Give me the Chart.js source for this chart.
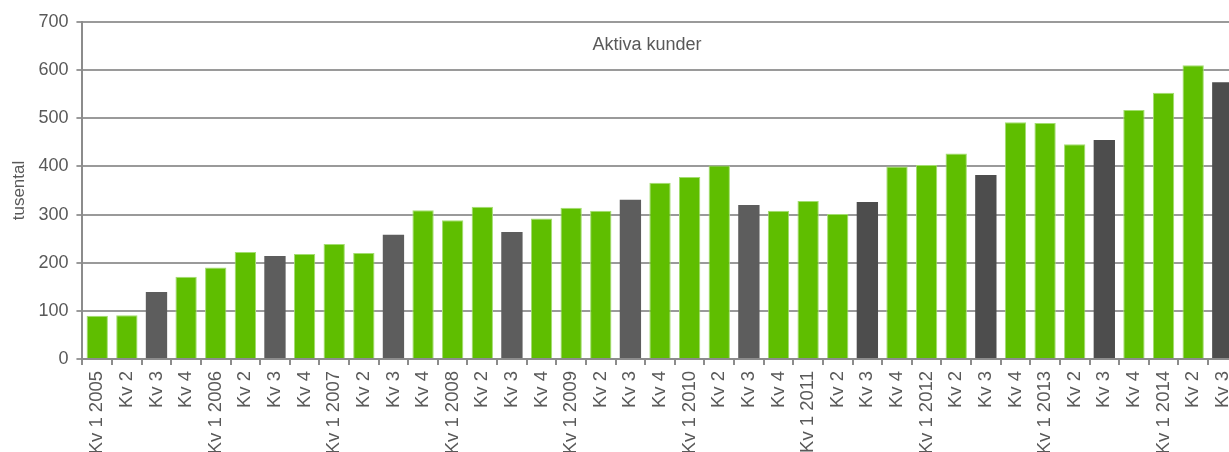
<!DOCTYPE html>
<html>
<head>
<meta charset="utf-8">
<script src="https://cdn.jsdelivr.net/npm/chart.js@4"></script>
<style>
  html, body { margin: 0; padding: 0; background: #fff; overflow: hidden; }
  #wrap { position: absolute; left: 0; top: 0; }
</style>
</head>
<body>
<div id="wrap"><canvas id="ch1" width="1251" height="454"></canvas></div>
<script>
// data - aktiva kunder per kvartal (tusental)
var years = ['2005','2006','2007','2008','2009','2010','2011','2012','2013','2014'];
var quarterLabels = [];
years.forEach(function(y){
  quarterLabels.push('Kv 1 ' + y, 'Kv 2', 'Kv 3', 'Kv 4');
});
quarterLabels = quarterLabels.slice(0, 39); // last one is Kv 3 2014

var kunder = [
  90, 91, 139, 171,
  190, 222, 214, 218,
  239, 220, 258, 309,
  288, 316, 264, 292,
  314, 308, 331, 366,
  378, 402, 320, 308,
  328, 301, 326, 400,
  403, 427, 382, 492,
  490, 446, 455, 517,
  553, 610, 575
];

var yTicks = [0, 100, 200, 300, 400, 500, 600, 700];

var green = '#5fbe00';
var greenEdge = '#a3dd70';
var grey = '#5d5d5d';
var greyDark = '#4d4d4d';

var barColors = [], barEdges = [], barEdgeW = [];
quarterLabels.forEach(function(l, i){
  if (l == 'Kv 3'){
    barColors.push(i >= 26 ? greyDark : grey);
    barEdges.push('rgba(0,0,0,0)');
    barEdgeW.push(0);
  }
  else{
    barColors.push(green);
    barEdges.push(greenEdge);
    barEdgeW.push(1);
  }
});

// title inside the plot
var innerTitle = {
  id: 'innerTitle',
  afterDraw: function(chart){
    var c = chart.ctx, a = chart.chartArea;
    c.save();
    c.font = '18px "Liberation Sans", Arial, sans-serif';
    c.fillStyle = '#595959';
    c.textAlign = 'center';
    c.textBaseline = 'middle';
    c.fillText('Aktiva kunder', 647, a.top + 23);
    c.restore();
  }
};

var txt = '#595959';
var ctx = document.getElementById('ch1').getContext('2d');
var myChart = new Chart(ctx, {
  type: 'bar',
  data: {
    labels: quarterLabels,
    datasets: [{
      label: 'Aktiva kunder',
      data: kunder,
      backgroundColor: barColors,
      borderColor: barEdges,
      borderWidth: barEdgeW,
      barPercentage: 0.72,
      categoryPercentage: 1
    }]
  },
  options: {
    responsive: false,
    animation: false,
    layout: { padding: { top: 22, right: 0, left: 9, bottom: 0 } },
    plugins: {
      legend: { display: false },
      tooltip: { enabled: false }
    },
    scales: {
      x: {
        offset: true,
        afterFit: function(axis){ axis.height = 95; },
        grid: {
          offset: true,
          drawOnChartArea: false,
          drawTicks: true,
          tickLength: 6,
          color: '#8c8c8c',
          lineWidth: 2
        },
        border: { color: '#8c8c8c', width: 2 },
        ticks: {
          autoSkip: false,
          minRotation: 90,
          maxRotation: 90,
          padding: 6,
          color: txt,
          font: { family: '"Liberation Sans", Arial, sans-serif', size: 18.5 }
        }
      },
      y: {
        min: 0,
        max: 700,
        afterBuildTicks: function(axis){
          axis.ticks = yTicks.map(function(v){ return { value: v }; });
        },
        grid: {
          color: '#9a9a9a',
          lineWidth: 2,
          tickLength: 6
        },
        border: { color: '#8c8c8c', width: 2 },
        ticks: {
          padding: 8,
          color: txt,
          font: { family: '"Liberation Sans", Arial, sans-serif', size: 18 }
        },
        title: {
          display: true,
          text: 'tusental',
          color: txt,
          padding: { top: 0, bottom: 1 },
          font: { family: '"Liberation Sans", Arial, sans-serif', size: 17 }
        }
      }
    }
  },
  plugins: [innerTitle]
});
</script>
</body>
</html>
